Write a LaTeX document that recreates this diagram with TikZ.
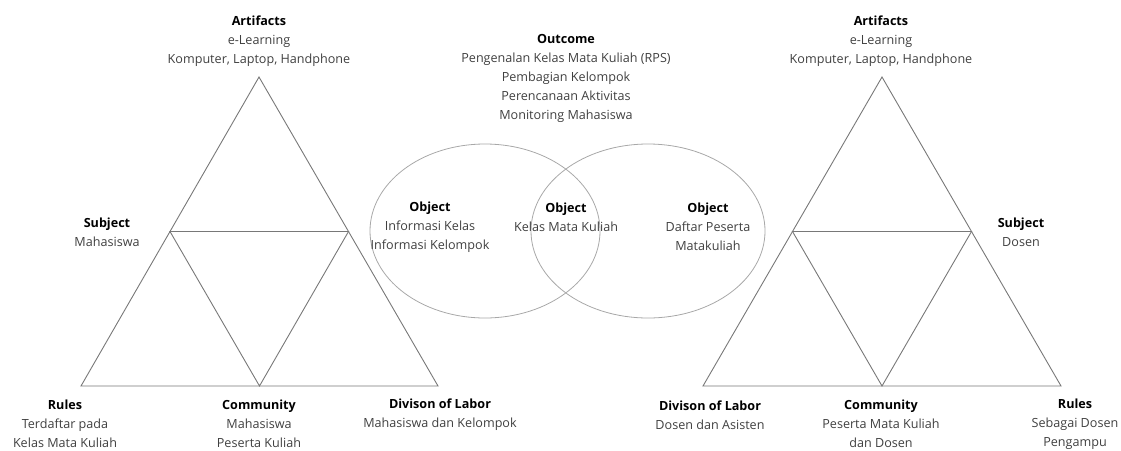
\documentclass[tikz,border=0pt]{standalone}
\usepackage{fontspec}
\setmainfont{Open Sans}
\usetikzlibrary{calc}
\definecolor{edgegray}{HTML}{787878}
\definecolor{ringgray}{HTML}{A8A8A8}
\definecolor{txtgray}{HTML}{404040}

\tikzset{
  lbl/.style={align=center,text=txtgray,font=\fontsize{12.6}{19}\selectfont,inner sep=0pt},
  edge/.style={draw=edgegray,line width=0.9pt},
  ring/.style={draw=ringgray,line width=0.8pt}
}
\newcommand{\hd}[1]{\textbf{\color{black}#1}}

\begin{document}
\begin{tikzpicture}[x=1pt,y=-1pt]
    \useasboundingbox (0,0) rectangle (1121,450);

    % left triangle (mahasiswa)
    \coordinate (la) at (259,77);
    \coordinate (ll) at (81,386);
    \coordinate (lr) at (438,386);
    \coordinate (lm) at ($(ll)!0.5!(lr)$);
    \coordinate (lsl) at ($(la)!0.5!(ll)$);
    \coordinate (lsr) at ($(la)!0.5!(lr)$);
    \draw[edge] (la) -- (ll) -- (lr) -- cycle;
    \draw[edge] (lsl) -- (lsr) -- (lm) -- cycle;

    % right triangle (dosen)
    \coordinate (ra) at (882,77);
    \coordinate (rl) at (703,386);
    \coordinate (rr) at (1061,386);
    \coordinate (rm) at ($(rl)!0.5!(rr)$);
    \coordinate (rsl) at ($(ra)!0.5!(rl)$);
    \coordinate (rsr) at ($(ra)!0.5!(rr)$);
    \draw[edge] (ra) -- (rl) -- (rr) -- cycle;
    \draw[edge] (rsl) -- (rsr) -- (rm) -- cycle;

    % object circles
    \draw[ring] (485,231) ellipse [x radius=115,y radius=87];
    \draw[ring] (648,231) ellipse [x radius=117,y radius=87];

    \node[lbl] (artL) at (259,41) {\hd{Artifacts}\\e-Learning\\Komputer, Laptop, Handphone};
    \node[lbl] (artR) at (881,41) {\hd{Artifacts}\\e-Learning\\Komputer, Laptop, Handphone};
    \node[lbl] (outcome) at (566,78) {\hd{Outcome}\\Pengenalan Kelas Mata Kuliah (RPS)\\Pembagian Kelompok\\Perencanaan Aktivitas\\Monitoring Mahasiswa};

    \node[lbl] (subjL) at (107,232.5) {\hd{Subject}\\Mahasiswa};
    \node[lbl] (subjR) at (1021,232.5) {\hd{Subject}\\Dosen};

    \node[lbl] (objL) at (430,227) {\hd{Object}\\Informasi Kelas\\Informasi Kelompok};
    \node[lbl] (objM) at (566,217.5) {\hd{Object}\\Kelas Mata Kuliah};
    \node[lbl] (objR) at (708,227) {\hd{Object}\\Daftar Peserta\\Matakuliah};

    \node[lbl] (rulesL) at (65,424) {\hd{Rules}\\Terdaftar pada\\Kelas Mata Kuliah};
    \node[lbl] (commL) at (259,424) {\hd{Community}\\Mahasiswa\\Peserta Kuliah};
    \node[lbl] (divL) at (440,415) {\hd{Divison of Labor}\\Mahasiswa dan Kelompok};

    \node[lbl] (divR) at (710,415) {\hd{Divison of Labor}\\Dosen dan Asisten};
    \node[lbl] (commR) at (881,424) {\hd{Community}\\Peserta Mata Kuliah\\dan Dosen};
    \node[lbl] (rulesR) at (1075,424) {\hd{Rules}\\Sebagai Dosen\\Pengampu};
  \end{tikzpicture}
\end{document}
